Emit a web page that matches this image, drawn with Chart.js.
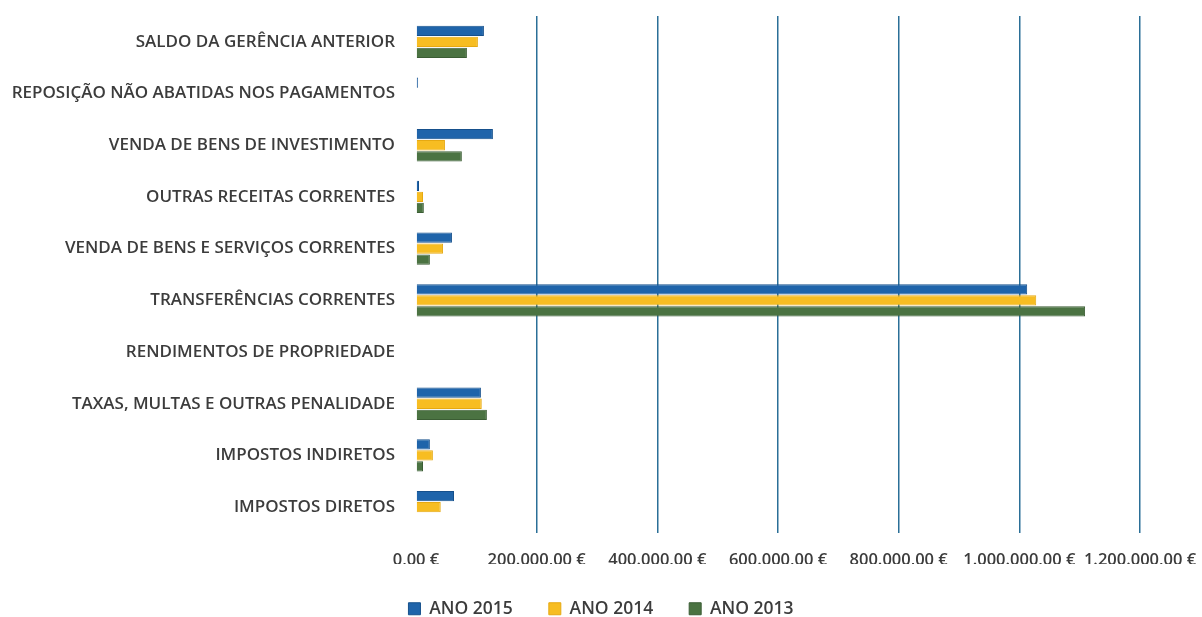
<!DOCTYPE html>
<html lang="pt">
<head>
<meta charset="UTF-8">
<title>Receitas</title>
<script src="https://cdn.jsdelivr.net/npm/chart.js"></script>
<style>
    body { margin: 0; background: #fff; }
    .wrap { width: 1202px; height: 617px; }
</style>
</head>
<body>
<div class="wrap"><canvas id="chart"></canvas></div>
<script>
    const categories = [
        'SALDO DA GERÊNCIA ANTERIOR',
        'REPOSIÇÃO NÃO ABATIDAS NOS PAGAMENTOS',
        'VENDA DE BENS DE INVESTIMENTO',
        'OUTRAS RECEITAS CORRENTES',
        'VENDA DE BENS E SERVIÇOS CORRENTES',
        'TRANSFERÊNCIAS CORRENTES',
        'RENDIMENTOS DE PROPRIEDADE',
        'TAXAS, MULTAS E OUTRAS PENALIDADE',
        'IMPOSTOS INDIRETOS',
        'IMPOSTOS DIRETOS'
    ];
    const ano2015 = [112600, 3500, 127500, 5000, 59600, 1013000, 0, 107600, 23000, 63000];
    const ano2014 = [102600, 0, 48000, 11600, 44700, 1028000, 0, 109000, 28000, 41000];
    const ano2013 = [84400, 0, 76000, 13000, 23000, 1109000, 0, 117500, 11600, 0];
    const xTicks = [0, 200000, 400000, 600000, 800000, 1000000, 1200000];

    // 1200000 -> "1.200.000,00 €"
    function euro(v) {
        const int = Math.round(v).toString().replace(/\B(?=(\d{3})+(?!\d))/g, '.');
        return int + ',00 €';
    }
    const textColor = '#3c3c3c';
    const font = "'Open Sans', sans-serif";

    new Chart(document.getElementById('chart'), {
        type: 'bar',
        data: {
            labels: categories,
            datasets: [
                { label: 'ANO 2015', data: ano2015, backgroundColor: '#1f64aa', borderColor: '#16508c', borderWidth: 1 },
                { label: 'ANO 2014', data: ano2014, backgroundColor: '#f7bd22', borderColor: '#e6a912', borderWidth: 1 },
                { label: 'ANO 2013', data: ano2013, backgroundColor: '#4b7342', borderColor: '#3b5d34', borderWidth: 1 }
            ]
        },
        options: {
            indexAxis: 'y',
            responsive: true,
            maintainAspectRatio: false,
            animation: false,
            categoryPercentage: 0.64,
            barPercentage: 0.93,
            layout: { padding: { top: 16, right: 0, bottom: 0, left: 0 } },
            scales: {
                x: {
                    min: 0,
                    max: 1200000,
                    afterBuildTicks: scale => { scale.ticks = xTicks.map(v => ({ value: v })); },
                    // short axis box so the legend sits where it does in the original
                    afterFit: scale => {
                        scale.height = 31;
                        scale.paddingLeft = 0;
                        scale.paddingRight = 62;
                    },
                    ticks: {
                        color: textColor,
                        font: { family: font, size: 16.5, weight: 600 },
                        padding: 17,
                        maxRotation: 0,
                        callback: v => euro(v)
                    },
                    grid: {
                        color: ctx => ctx.tick && ctx.tick.value === 0 ? 'rgba(0,0,0,0)' : '#2b6f97',
                        lineWidth: 1.5,
                        drawTicks: false
                    },
                    border: { display: false }
                },
                y: {
                    afterFit: scale => {
                        scale.width = 416;
                        scale.paddingTop = 0;
                        scale.paddingBottom = 0;
                    },
                    ticks: {
                        color: textColor,
                        font: { family: font, size: 17, weight: 600 },
                        padding: 21
                    },
                    grid: { display: false, drawTicks: false },
                    border: { display: false }
                }
            },
            plugins: {
                legend: {
                    position: 'bottom',
                    maxHeight: 53,
                    labels: {
                        color: textColor,
                        font: { family: font, size: 17.5, weight: 600 },
                        boxWidth: 12,
                        boxHeight: 12,
                        padding: 36,
                        useBorderRadius: false
                    }
                },
                tooltip: { enabled: false }
            }
        }
    });
</script>
</body>
</html>
